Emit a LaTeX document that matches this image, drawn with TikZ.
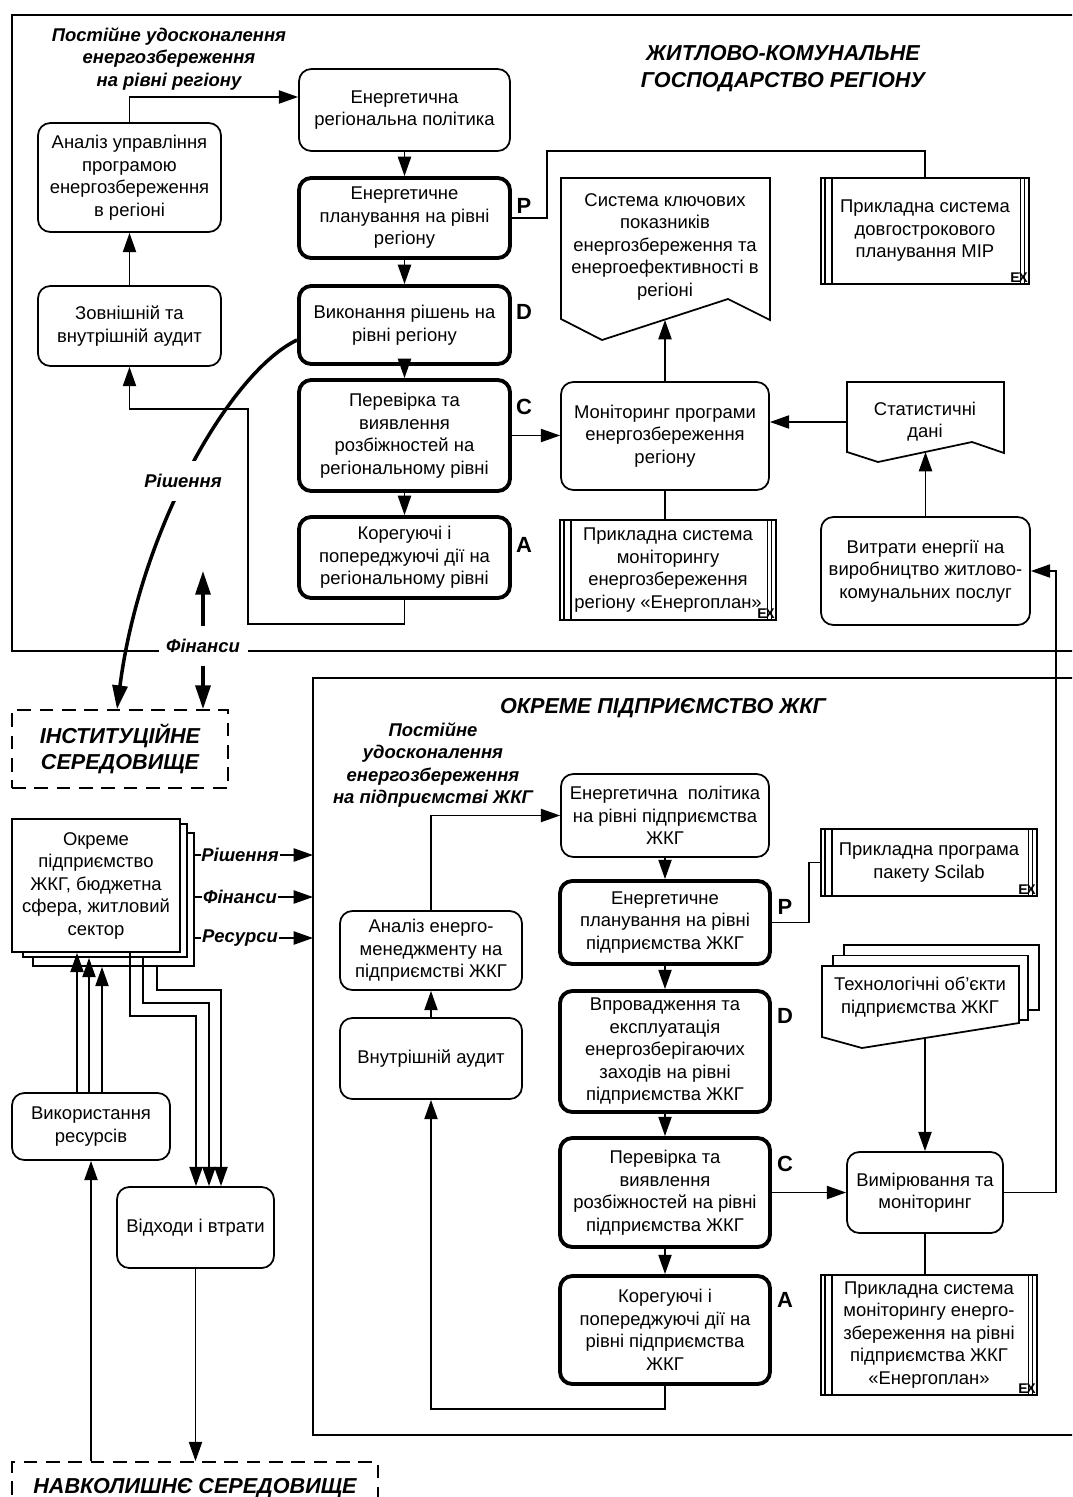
\documentclass[tikz,border=0pt]{standalone}
\usepackage{fontspec}
\setmainfont{Liberation Sans}
\usetikzlibrary{arrows.meta}

\newcommand{\boxfont}{\fontsize{10.5}{12.8}\selectfont}
\newcommand{\labfont}{\fontsize{10.5}{12.8}\selectfont\bfseries\itshape}
\newcommand{\headfont}{\fontsize{12.3}{15.4}\selectfont\bfseries\itshape}
\newcommand{\envfont}{\fontsize{12.3}{14.8}\selectfont\bfseries\itshape}
\newcommand{\pdcafont}{\fontsize{12.5}{14}\selectfont\bfseries}

\tikzset{
	wh/.style 2 args={minimum width=#1*0.02cm, minimum height=#2*0.02cm},
	box/.style={draw, line width=1pt, rounded corners=7pt, align=center, font=\boxfont, inner sep=0pt},
	pdcabox/.style={box, line width=2.2pt},
	extbox/.style={draw, line width=1pt, align=center, font=\boxfont, inner sep=0pt,
		path picture={
			\draw[line width=0.8pt]
				([xshift=2.3pt]path picture bounding box.north west) -- ([xshift=2.3pt]path picture bounding box.south west)
				([xshift=6.2pt]path picture bounding box.north west) -- ([xshift=6.2pt]path picture bounding box.south west)
				([xshift=-2.5pt]path picture bounding box.north east) -- ([xshift=-2.5pt]path picture bounding box.south east)
				([xshift=-4.8pt]path picture bounding box.north east) -- ([xshift=-4.8pt]path picture bounding box.south east);
		}},
	exmark/.style={anchor=south east, inner sep=0pt, font=\fontsize{8}{8}\selectfont\bfseries},
	doctext/.style={align=center, font=\boxfont, inner sep=0pt},
	docpage/.style={draw, line width=1pt, fill=white},
	lab/.style={align=center, font=\labfont, inner sep=1pt},
	headlab/.style={align=center, font=\headfont, inner sep=0pt},
	envbox/.style={draw, line width=1pt, dash pattern=on 7.8pt off 4.9pt, align=center, font=\envfont, inner sep=0pt},
	pdca/.style={font=\pdcafont, inner sep=0pt},
	arr/.style={line width=1pt, -{Triangle[length=11pt,width=7.5pt]}},
	bigarr/.style={line width=2pt, -{Triangle[length=13.5pt,width=8.5pt]}},
	frame/.style={line width=1pt}
}

\begin{document}
\begin{tikzpicture}[x=0.02cm, y=-0.02cm]

		\useasboundingbox (0,0) rectangle (1072,1497);
		\clip (0,0) rectangle (1072,1497);

		%% Region %%
		\draw[frame] (1090,15) -- (12,15) -- (12,651) -- (1090,651);
		\node[headlab] (title1) at (783,69) {ЖИТЛОВО-КОМУНАЛЬНЕ\\ГОСПОДАРСТВО РЕГІОНУ};
		\node[lab] (imp1) at (169,59) {Постійне удосконалення\\енергозбереження\\на рівні регіону};

		\node[box, wh={183}{109}] (an1) at (129.5,177.5) {Аналіз управління\\програмою\\енергозбереження\\в регіоні};
		\node[box, wh={183}{80}] (aud1) at (129.5,326) {Зовнішній та\\внутрішній аудит};
		\node[box, wh={211}{82}] (pol1) at (404.5,110) {Енергетична\\регіональна політика};

		% PDCA of the region
		\node[pdcabox, wh={211}{80}] (plan1) at (404.5,218) {Енергетичне\\планування на рівні\\регіону};
		\node[pdcabox, wh={211}{78}] (do1) at (404.5,325) {Виконання рішень на\\рівні регіону};
		\node[pdcabox, wh={211}{111}] (chk1) at (404.5,435.5) {Перевірка та\\виявлення\\розбіжностей на\\регіональному рівні};
		\node[pdcabox, wh={211}{81}] (act1) at (404.5,557.5) {Корегуючі і\\попереджуючі дії на\\регіональному рівні};
		\node[pdca] (p1) at (524,206) {P};
		\node[pdca] (d1) at (524,312) {D};
		\node[pdca] (c1) at (524,407) {C};
		\node[pdca] (a1) at (524,545) {A};

		% key indicators (document)
		\draw[line width=1pt] (561,178) -- (770,178) -- (770,320) -- (728,299) -- (602,340) -- (561,319) -- cycle;
		\node[doctext] (kpi) at (665,246.5) {Система ключових\\показників\\енергозбереження та\\енергоефективності в\\регіоні};
		\coordinate (kpi-in) at (665,320);

		\node[extbox, wh={208}{106}] (mip) at (925,231) {Прикладна система\\довгострокового\\планування MIP};
		\node[box, wh={208}{108}] (mon1) at (665,436) {Моніторинг програми\\енергозбереження\\регіону};
		\node[extbox, wh={216}{100}] (appmon1) at (668,570) {Прикладна система\\моніторингу\\енергозбереження\\регіону «Енергоплан»};

		% statistics (document)
		\draw[line width=1pt] (847,382) -- (1004,382) -- (1004,453) -- (972,442) -- (878,462) -- (847,452) -- cycle;
		\node[doctext] (stat) at (925,421.5) {Статистичні\\дані};
		\coordinate (stat-w) at (847,422);
		\coordinate (stat-in) at (925.5,452);

		\node[box, wh={209}{108}] (cost) at (925.5,571) {Витрати енергії на\\виробництво житлово-\\комунальних послуг};

		%% Enterprise %%
		\draw[frame] (1090,678) -- (313,678) -- (313,1435) -- (1090,1435);
		\coordinate (zkg-nw) at (313,678);
		\node[headlab] (title2) at (663,708) {ОКРЕМЕ ПІДПРИЄМСТВО ЖКГ};
		\node[lab] (imp2) at (433,765) {Постійне\\удосконалення\\енергозбереження\\на підприємстві ЖКГ};

		\node[box, wh={208}{83}] (pol2) at (665,815.5) {Енергетична\ \ політика\\на рівні підприємства\\ЖКГ};
		\node[box, wh={182}{79}] (an2) at (431,950.5) {Аналіз енерго-\\менеджменту на\\підприємстві ЖКГ};
		\node[box, wh={182}{81}] (aud2) at (431,1058.5) {Внутрішній аудит};

		% PDCA of the enterprise
		\node[pdcabox, wh={210}{83}] (plan2) at (665,922.5) {Енергетичне\\планування на рівні\\підприємства ЖКГ};
		\node[pdcabox, wh={210}{121}] (do2) at (665,1051.5) {Впровадження та\\експлуатація\\енергозберігаючих\\заходів на рівні\\підприємства ЖКГ};
		\node[pdcabox, wh={210}{109}] (chk2) at (665,1192.5) {Перевірка та\\виявлення\\розбіжностей на рівні\\підприємства ЖКГ};
		\node[pdcabox, wh={210}{108}] (act2) at (665,1330) {Корегуючі і\\попереджуючі дії на\\рівні підприємства\\ЖКГ};
		\node[pdca] (p2) at (785,907) {P};
		\node[pdca] (d2) at (785,1016) {D};
		\node[pdca] (c2) at (785,1164) {C};
		\node[pdca] (a2) at (785,1300) {A};

		\node[extbox, wh={216}{67}] (scilab) at (929,862.5) {Прикладна програма\\пакету Scilab};

		% technological objects (multi-document)
		\draw[docpage] (844,955.5) -- (844,945) -- (1039,945) -- (1039,1010) -- (1028,1010);
		\draw[docpage] (833,966) -- (833,955.5) -- (1028,955.5) -- (1028,1020) -- (1019,1020);
		\draw[docpage] (822,966) -- (1019,966) -- (1019,1023) -- (862,1048) -- (822,1037) -- cycle;
		\node[doctext] (tech) at (920,997) {Технологічні об'єкти\\підприємства ЖКГ};
		\coordinate (tech-b) at (925,1038);

		\node[box, wh={156}{81}] (meas) at (925,1192.5) {Вимірювання та\\моніторинг};
		\node[extbox, wh={216}{120}] (appmon2) at (929,1335) {Прикладна система\\моніторингу енерго-\\збереження на рівні\\підприємства ЖКГ\\«Енергоплан»};

		% external marks
		\node[exmark] (ex1) at ([shift={(-1pt,1pt)}]mip.south east) {E\kern-0.8pt X};
		\node[exmark] (ex2) at ([shift={(-1pt,1pt)}]appmon1.south east) {E\kern-0.8pt X};
		\node[exmark] (ex3) at ([shift={(-1pt,1pt)}]scilab.south east) {E\kern-0.8pt X};
		\node[exmark] (ex4) at ([shift={(-1pt,1pt)}]appmon2.south east) {E\kern-0.8pt X};

		%% Left side %%
		\node[envbox, wh={216}{78}] (inst) at (120,749) {ІНСТИТУЦІЙНЕ\\СЕРЕДОВИЩЕ};
		\node[docpage, wh={161}{133}] (ent3) at (113.5,899.5) {};
		\node[docpage, wh={164}{133}] (ent2) at (105,890.5) {};
		\node[docpage, wh={168}{133}, align=center, font=\boxfont, inner sep=0pt] (ent) at (96,885.5)
			{Окреме\\підприємство\\ЖКГ, бюджетна\\сфера, житловий\\сектор};
		\node[box, wh={158}{67}] (use) at (91,1126.5) {Використання\\ресурсів};
		\node[box, wh={157}{81}] (waste) at (195.5,1227.5) {Відходи і втрати};
		\node[envbox, wh={366}{52}] (env) at (195,1488) {НАВКОЛИШНЄ СЕРЕДОВИЩЕ};

		%% Connectors %%
		% region
		\draw[arr] (an1.north) -- (an1.north |- 0,97) -- (pol1.west |- 0,97);
		\draw[arr] (aud1.north) -- (an1.south);
		\draw[arr] (pol1.south) -- (plan1.north);
		\draw[arr] (plan1.south) -- (do1.north);
		\draw[arr] (do1.south) -- (chk1.north);
		\draw[arr] (chk1.south) -- (act1.north);
		\draw[arr] (act1.south) -- (act1.south |- 0,624) -- (248,624) -- (248,409) -- (aud1.south |- 0,409) -- (aud1.south);
		\draw[frame] (plan1.east) -- (547,0 |- plan1.east) -- (547,151) -- (mip.north |- 0,151) -- (mip.north);
		\draw[arr] (chk1.east) -- (chk1.east -| mon1.west);
		\draw[arr] (mon1.north) -- (kpi-in);
		\draw[frame] (mon1.south) -- (mon1.south |- appmon1.north);
		\draw[arr] (stat-w) -- (stat-w -| mon1.east);
		\draw[arr] (cost.north) -- (stat-in);
		\draw[arr] (meas.east) -- (1056,0 |- meas.east) -- (1056,0 |- cost.east) -- (cost.east);

		% enterprise
		\draw[arr] (an2.north) -- (an2.north |- pol2.west) -- (pol2.west);
		\draw[arr] (aud2.north) -- (an2.south);
		\draw[arr] (pol2.south) -- (plan2.north);
		\draw[arr] (plan2.south) -- (do2.north);
		\draw[arr] (do2.south) -- (chk2.north);
		\draw[arr] (chk2.south) -- (act2.north);
		\draw[arr] (act2.south) -- (act2.south |- 0,1409) -| (aud2.south);
		\draw[frame] (plan2.east) -- (809,0 |- plan2.east) |- (scilab.west);
		\draw[arr] (chk2.east) -- (chk2.east -| meas.west);
		\draw[arr] (tech-b) -- (meas.north);
		\draw[frame] (meas.south) -- (meas.south |- appmon2.north);

		% decisions and finances
		\draw[bigarr] (do1.west |- 0,340) .. controls (230,372) and (140,530) .. (117,0 |- inst.north);
		\node[lab, fill=white, minimum height=0.8cm] (rish) at (183,481) {Рішення};
		\node[lab, fill=white, wh={89}{39}] (fin) at (203,646) {Фінанси};
		\coordinate (fin-up) at (203,571);
		\draw[bigarr] (fin.north) -- (fin-up);
		\draw[bigarr] (fin.south) -- (fin.south |- inst.north);

		\draw[arr] (ent3.east |- 0,855) -- (zkg-nw |- 0,855);
		\draw[arr] (ent3.east |- 0,897) -- (zkg-nw |- 0,897);
		\draw[arr] (ent3.east |- 0,938) -- (zkg-nw |- 0,938);
		\node[lab, fill=white, inner xsep=0.5pt] (rish2) at (240,855) {Рішення};
		\node[lab, fill=white, inner xsep=0.5pt] (fin2) at (240,897) {Фінанси};
		\node[lab, fill=white, inner xsep=0.5pt] (res2) at (240,938) {Ресурси};

		% resources and waste
		\draw[arr] (77,0 |- use.north) -- (77,0 |- ent.south);
		\draw[arr] (89,0 |- use.north) -- (89,0 |- ent2.south);
		\draw[arr] (102,0 |- use.north) -- (102,0 |- ent3.south);
		\draw[arr] (130,0 |- ent.south) -- (130,1016) -| (196,0 |- waste.north);
		\draw[arr] (143,0 |- ent2.south) -- (143,1003) -| (209,0 |- waste.north);
		\draw[arr] (157,0 |- ent3.south) -- (157,990) -| (221,0 |- waste.north);
		\draw[arr] (waste.south) -- (waste.south |- env.north);
		\draw[arr] (env.north -| use.south) -- (use.south);

\end{tikzpicture}
\end{document}
